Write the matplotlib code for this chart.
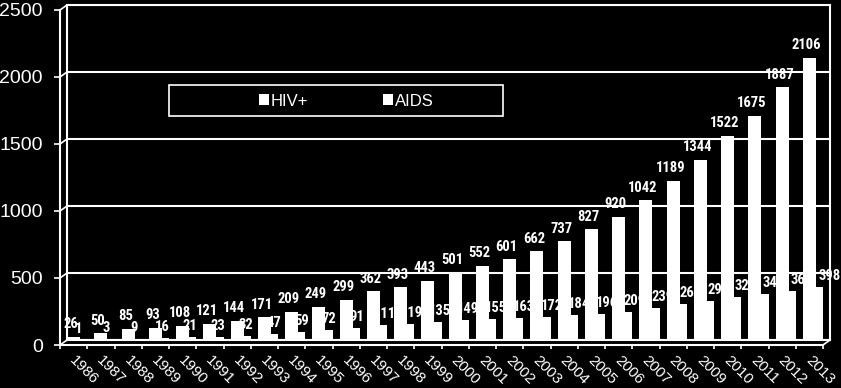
import matplotlib
matplotlib.use("Agg")
import matplotlib.pyplot as plt
from matplotlib import font_manager
from matplotlib.lines import Line2D
from matplotlib.patches import Rectangle
import numpy as np

years = [str(y) for y in range(1986, 2014)]
hiv = [26, 50, 85, 93, 108, 121, 144, 171, 209, 249, 299, 362, 393, 443,
       501, 552, 601, 662, 737, 827, 920, 1042, 1189, 1344, 1522, 1675, 1887, 2106]
aids = [1, 3, 9, 16, 21, 23, 32, 47, 59, 72, 91, 111, 119, 135,
        149, 155, 163, 172, 184, 196, 209, 239, 265, 292, 321, 341, 366, 398]
y_ticks = [0, 500, 1000, 1500, 2000, 2500]

W, H = 841, 388
plt.rcParams['font.family'] = ['Liberation Sans', 'DejaVu Sans']

# the value labels use a narrow bold face when one is installed
installed = {f.name for f in font_manager.fontManager.ttflist}
narrow = next((n for n in ['Liberation Sans Narrow', 'DejaVu Sans Condensed',
                           'Roboto Condensed', 'Open Sans Condensed']
               if n in installed), None)
if narrow:
    label_font = dict(family=[narrow, 'DejaVu Sans'], weight='bold', size=10.5)
else:
    label_font = dict(family=['Liberation Sans', 'DejaVu Sans'], weight='bold', size=9.5)

fig = plt.figure(figsize=(W / 100, H / 100), dpi=100, facecolor='black')

# back wall (grid + bars) and front frame (ticks), offset like the 3D original
back = [67 / W, 1 - 340 / H, 763 / W, 335 / H]
front = [60 / W, 1 - 345 / H, 763 / W, 335 / H]
ax = fig.add_axes(back, facecolor='black')
ax2 = fig.add_axes(front, facecolor='none')

x = np.arange(len(years))
for a in (ax, ax2):
    a.set_xlim(-0.5, len(years) - 0.5)
    a.set_ylim(0, 2500)

# back wall
for v in y_ticks:
    ax.axhline(v, color='white', lw=1.5, zorder=1)
for s in ax.spines.values():
    s.set_color('white')
    s.set_linewidth(1.5)
ax.set_xticks([])
ax.set_yticks([])

b1 = ax.bar(x - 0.26, hiv, width=0.48, color='white', zorder=3, label='HIV+')
b2 = ax.bar(x + 0.115, aids, width=0.27, color='white', zorder=2, label='AIDS')

for i in range(len(years)):
    ax.annotate(str(hiv[i]), (x[i] - 0.26, hiv[i]), xytext=(-2, 4),
                textcoords='offset points', ha='center', va='bottom',
                color='white', zorder=5, **label_font)
    ax.annotate(str(aids[i]), (x[i] + 0.115, aids[i]),
                xytext=(-3.6 + 0.4 * i, 3), textcoords='offset points',
                ha='center', va='bottom', color='white', zorder=5, **label_font)

# front frame
for k in ('top', 'right'):
    ax2.spines[k].set_visible(False)
for k in ('left', 'bottom'):
    ax2.spines[k].set_color('white')
    ax2.spines[k].set_linewidth(1.5)
ax2.set_yticks(y_ticks)
ax2.set_yticklabels([str(v) for v in y_ticks], fontsize=14, color='white')
ax2.tick_params(axis='y', colors='white', length=4.5, width=1.2, pad=8)
ax2.set_xticks(x + 0.12)
ax2.set_xticklabels(years, rotation=-45, ha='left', va='top',
                    rotation_mode='anchor', fontsize=11, color='white')
ax2.set_xticks(np.arange(len(years) + 1) - 0.5, minor=True)
ax2.tick_params(axis='x', which='major', length=0, pad=6)
ax2.tick_params(axis='x', which='minor', colors='white', length=3, width=1.2)

# side wall / floor connectors
for v in y_ticks:
    yb = back[1] + v / 2500 * back[3]
    yf = front[1] + v / 2500 * front[3]
    fig.add_artist(Line2D([front[0], back[0]], [yf, yb], color='white', lw=1.2))
fig.add_artist(Line2D([front[0] + front[2], back[0] + back[2]],
                      [front[1], back[1]], color='white', lw=1.2))

# legend with its wide frame
fig.add_artist(Rectangle((169 / W, 1 - 116 / H), 334 / W, 31 / H,
                         facecolor='black', edgecolor='white', lw=1.2,
                         transform=fig.transFigure, zorder=4))
leg = fig.legend(handles=[b1, b2], loc='center', bbox_to_anchor=(346 / W, 1 - 101 / H),
                 ncol=2, frameon=False, fontsize=12, labelcolor='white',
                 handlelength=0.6, handleheight=0.6, handletextpad=0.1,
                 columnspacing=4.5)
leg.set_zorder(5)

fig.savefig('out.png', dpi=100, facecolor='black')
